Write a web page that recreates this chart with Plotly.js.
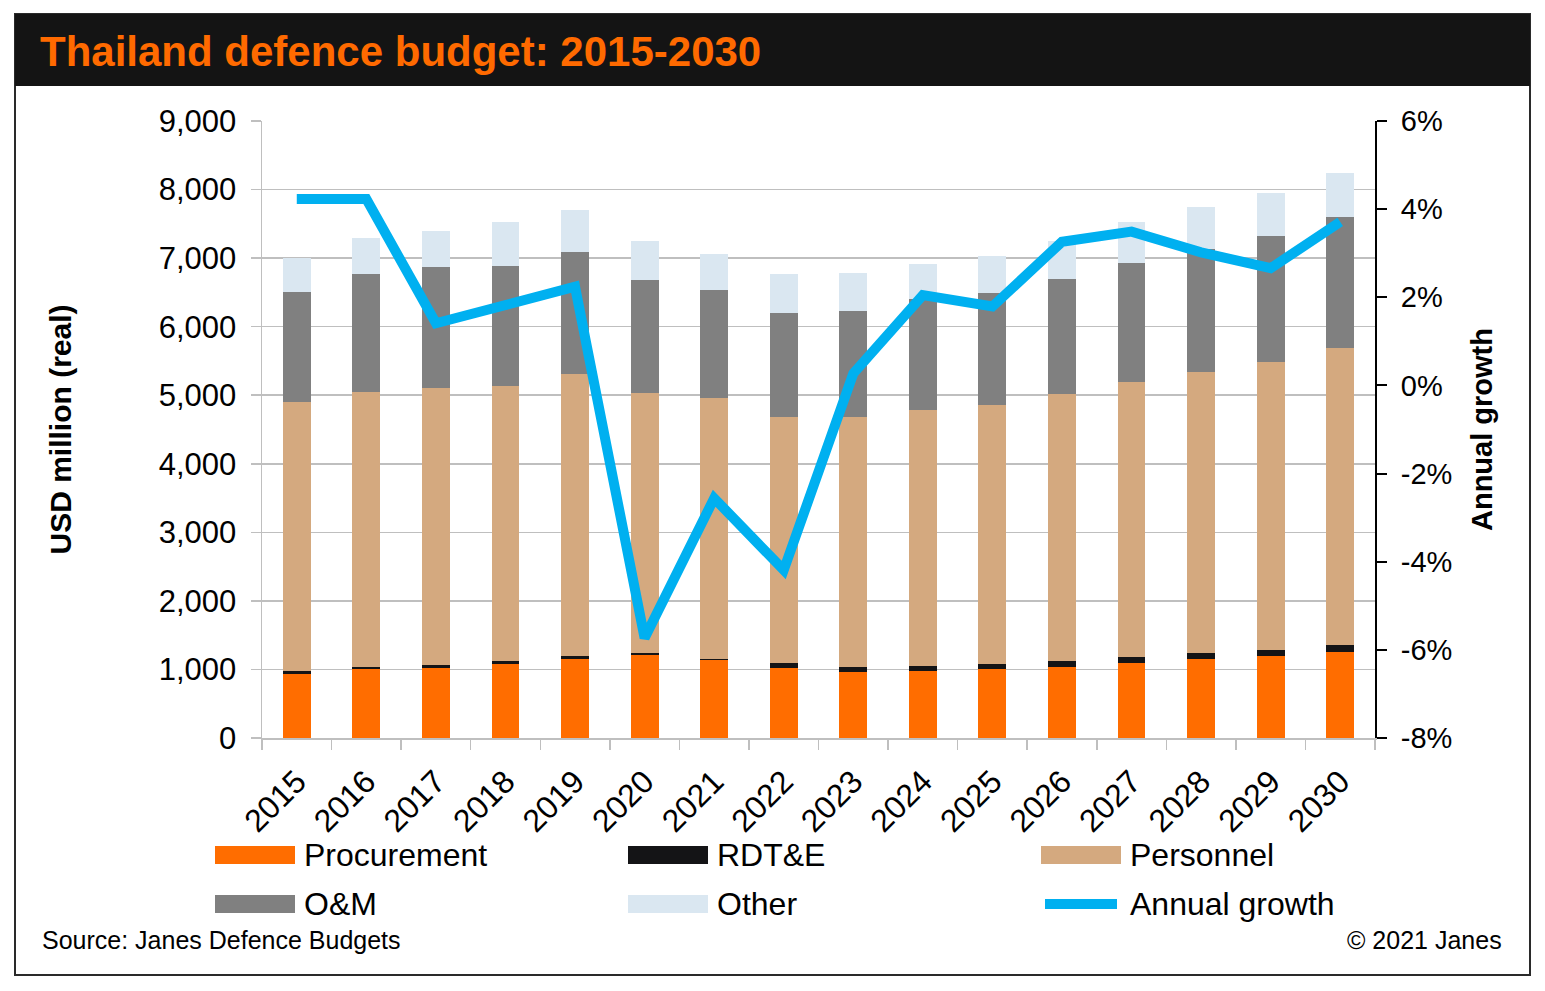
<!DOCTYPE html>
<html>
<head>
<meta charset="utf-8">
<script src="https://cdn.plot.ly/plotly-3.0.1.min.js"></script>
<style>
html,body{margin:0;padding:0;background:#fff;}
#chart{width:1545px;height:991px;}
</style>
</head>
<body>
<div id="chart"></div>
<script>
// ---- data ----
const years = ['2015','2016','2017','2018','2019','2020','2021','2022','2023','2024','2025','2026','2027','2028','2029','2030'];
const procurement = [930,1002,1021,1075,1157,1206,1133,1021,963,982,1002,1036,1098,1157,1200,1254];
const rdte = [47,34,39,48,39,38,24,77,73,68,73,87,88,87,84,98];
const personnel = [3923,4015,4040,4011,4113,3783,3798,3584,3651,3734,3782,3890,4007,4094,4196,4332];
const oandm = [1605,1717,1770,1755,1780,1658,1584,1517,1546,1616,1639,1687,1735,1790,1838,1915];
const other = [492,525,525,637,608,564,520,573,549,514,539,550,598,617,636,646];
const growth = [4.23,4.23,1.41,1.82,2.24,-5.73,-2.56,-4.19,0.27,2.05,1.79,3.26,3.49,3.02,2.66,3.71];
const y2TickVals = [-8,-6,-4,-2,0,2,4,6];
const y2TickText = ['-8%','-6%','-4%','-2%','0%','2%','4%','6%'];
const seriesNames = ['Procurement','RDT&E','Personnel','O&M','Other','Annual growth'];

// ---- style ----
const FONT = 'Liberation Sans, Arial, Helvetica, sans-serif';
const colors = {
  proc:'#FF6D00', rdte:'#141416', pers:'#D4A97F', om:'#808080', other:'#DAE7F1', line:'#00B0F0'
};
const W = 1545, H = 991;
const L = 262, R = 1375, T = 121, B = 738;
const px = x => (x - L) / (R - L);
const py = y => (B - y) / (B - T);

function bar(name, vals, color){
  return {type:'bar', name:name, x:years, y:vals, marker:{color:color, line:{width:0}},
          showlegend:false, hoverinfo:'x+y+name'};
}
const traces = [
  bar(seriesNames[0], procurement, colors.proc),
  bar(seriesNames[1], rdte, colors.rdte),
  bar(seriesNames[2], personnel, colors.pers),
  bar(seriesNames[3], oandm, colors.om),
  bar(seriesNames[4], other, colors.other),
  {type:'scatter', mode:'lines', name:seriesNames[5], x:years, y:growth, yaxis:'y2',
   line:{color:colors.line, width:10}, showlegend:false}
];

// custom legend (3 columns x 2 rows)
const legCols = [215, 628, 1041];
const legRows = [855, 904];
const legColors = [colors.proc, colors.rdte, colors.pers, colors.om, colors.other, colors.line];
const shapes = [
  // frame
  {type:'rect', xref:'paper', yref:'paper', x0:px(15), x1:px(1530), y0:py(975), y1:py(14),
   line:{color:'#2a2a2a', width:2}, fillcolor:'rgba(0,0,0,0)', layer:'below'},
  // title bar
  {type:'rect', xref:'paper', yref:'paper', x0:px(15), x1:px(1530), y0:py(86), y1:py(14),
   line:{width:0}, fillcolor:'#141414', layer:'below'}
];
const annotations = [];
seriesNames.forEach((n, i) => {
  const c = legCols[i % 3], r = legRows[Math.floor(i / 3)];
  if (i === 5) {
    shapes.push({type:'line', xref:'paper', yref:'paper', x0:px(c+4), x1:px(c+76), y0:py(r), y1:py(r),
      line:{color:legColors[i], width:10}});
  } else {
    shapes.push({type:'rect', xref:'paper', yref:'paper', x0:px(c), x1:px(c+80), y0:py(r+9), y1:py(r-9),
      line:{width:0}, fillcolor:legColors[i]});
  }
  annotations.push({xref:'paper', yref:'paper', x:px(c+87), y:py(r), xanchor:'left', yanchor:'middle',
    text:n.replace('&','&amp;'), showarrow:false, font:{family:FONT, size:32, color:'#000'}});
});
annotations.push({xref:'paper', yref:'paper', x:px(40), y:py(940), xanchor:'left', yanchor:'middle',
  text:'Source: Janes Defence Budgets', showarrow:false, font:{family:FONT, size:25, color:'#000'}});
annotations.push({xref:'paper', yref:'paper', x:px(1504), y:py(940), xanchor:'right', yanchor:'middle',
  text:'© 2021 Janes', showarrow:false, font:{family:FONT, size:25, color:'#000'}});

const layout = {
  width:W, height:H,
  margin:{l:L, r:W-R, t:T, b:H-B, pad:0},
  paper_bgcolor:'#fff', plot_bgcolor:'#fff',
  barmode:'stack', bargap:0.6,
  showlegend:false,
  font:{family:FONT, color:'#000'},
  title:{text:'<b>Thailand defence budget: 2015-2030</b>', xref:'container', yref:'container',
    x:40/W, xanchor:'left', y:1-51/H, yanchor:'middle',
    font:{family:FONT, size:42, color:'#FF6A00'}},
  xaxis:{type:'category', showline:true, linecolor:'#BFBFBF', linewidth:2,
    ticks:'outside', tickson:'boundaries', ticklen:10, tickcolor:'#BFBFBF', tickwidth:1.5,
    tickangle:-45, tickfont:{family:FONT, size:32, color:'#000'}, ticklabelstandoff:10, showgrid:false,
    automargin:false, fixedrange:true},
  yaxis:{range:[0,9000], dtick:1000, tickformat:',', showline:true, linecolor:'#BFBFBF', linewidth:1.5,
    ticks:'outside', ticklen:10, tickcolor:'#BFBFBF', tickwidth:1.5,
    showgrid:true, gridcolor:'#BFBFBF', gridwidth:1.5, zeroline:false,
    tickfont:{family:FONT, size:31, color:'#000'}, ticklabelstandoff:8,
    title:{text:'<b>USD million (real)</b>', font:{family:FONT, size:30, color:'#000'}, standoff:78},
    automargin:false, fixedrange:true},
  yaxis2:{overlaying:'y', side:'right', range:[-8,6], tickvals:y2TickVals, ticktext:y2TickText,
    showline:true, linecolor:'#000', linewidth:2, ticks:'outside', ticklen:10, tickcolor:'#000', tickwidth:2,
    showgrid:false, zeroline:false, tickfont:{family:FONT, size:29, color:'#000'}, ticklabelstandoff:8,
    title:{text:'<b>Annual growth</b>', font:{family:FONT, size:29, color:'#000'}, standoff:20},
    automargin:false, fixedrange:true},
  shapes:shapes,
  annotations:annotations
};
Plotly.newPlot('chart', traces, layout, {displayModeBar:false, staticPlot:true});
</script>
</body>
</html>
